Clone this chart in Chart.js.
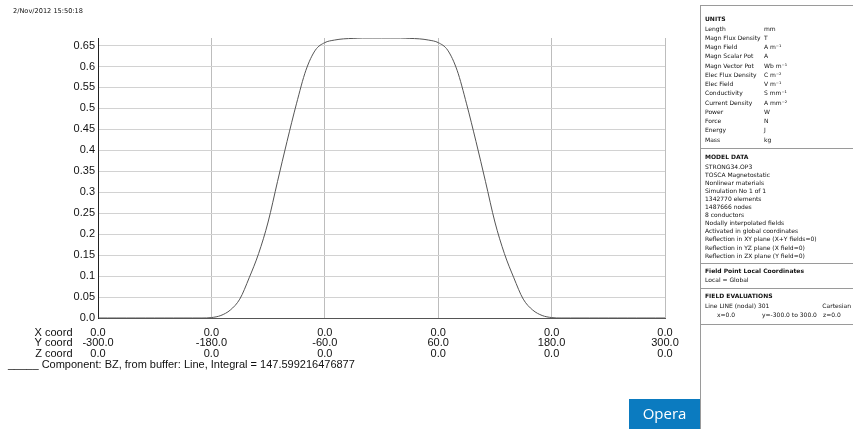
<!DOCTYPE html>
<html>
<head>
<meta charset="utf-8">
<script src="https://cdn.jsdelivr.net/npm/chart.js@4/dist/chart.umd.min.js"></script>
<style>
  html, body { margin: 0; padding: 0; background: #fff; }
  #wrap { position: relative; width: 853px; height: 429px; }
</style>
</head>
<body>
<div id="wrap"><canvas id="fieldChart" width="853" height="429"></canvas></div>
<script>
// Line LINE (nodal), x=0, z=0 -- BZ sampled along y
const yCoord = [-300, -290, -280, -270, -260, -250, -240, -230, -220, -210, -200, -190, -180,
    -170, -160, -150, -140, -130, -120, -110, -100, -90, -80, -70, -60, -50, -40, -30, -20, -10,
    0, 10, 20, 30, 40, 50, 60, 70, 80, 90, 100, 110, 120, 130, 140, 150, 160, 170,
    180, 190, 200, 210, 220, 230, 240, 250, 260, 270, 280, 290, 300];
const bz = [0, 0, 0, 0, 0, 0, 0, 0, 0, 0, 0, 0, 0.001,
    0.006, 0.019, 0.045, 0.096, 0.154, 0.229, 0.326, 0.421, 0.511, 0.591, 0.639, 0.657, 0.663, 0.666, 0.667, 0.668, 0.668,
    0.668, 0.668, 0.668, 0.667, 0.666, 0.663, 0.657, 0.639, 0.591, 0.511, 0.421, 0.326, 0.229, 0.154, 0.096, 0.045, 0.019, 0.006,
    0.001, 0, 0, 0, 0, 0, 0, 0, 0, 0, 0, 0, 0];

const yTicks = [0, 0.05, 0.1, 0.15, 0.2, 0.25, 0.3, 0.35, 0.4, 0.45, 0.5, 0.55, 0.6, 0.65];
const yTickLabels = ['0.0', '0.05', '0.1', '0.15', '0.2', '0.25', '0.3', '0.35', '0.4', '0.45', '0.5', '0.55', '0.6', '0.65'];
const xTicks = [-300, -180, -60, 60, 180, 300];
const xCoordLabels = ['0.0', '0.0', '0.0', '0.0', '0.0', '0.0'];
const yCoordLabels = ['-300.0', '-180.0', '-60.0', '60.0', '180.0', '300.0'];
const zCoordLabels = ['0.0', '0.0', '0.0', '0.0', '0.0', '0.0'];

const unitNames = ['Length', 'Magn Flux Density', 'Magn Field', 'Magn Scalar Pot', 'Magn Vector Pot',
    'Elec Flux Density', 'Elec Field', 'Conductivity', 'Current Density', 'Power', 'Force', 'Energy', 'Mass'];
const unitValues = ['mm', 'T', 'A m\u207B\u00B9', 'A', 'Wb m\u207B\u00B9', 'C m\u207B\u00B2', 'V m\u207B\u00B9',
    'S mm\u207B\u00B9', 'A mm\u207B\u00B2', 'W', 'N', 'J', 'kg'];
const modelData = ['STRONG34.OP3', 'TOSCA Magnetostatic', 'Nonlinear materials', 'Simulation No 1 of 1',
    '1342770 elements', '1487666 nodes', '8 conductors', 'Nodally interpolated fields',
    'Activated in global coordinates', 'Reflection in XY plane (X+Y fields=0)',
    'Reflection in YZ plane (X field=0)', 'Reflection in ZX plane (Y field=0)'];

const PANEL_FONT = "'DejaVu Sans', sans-serif";
const AXIS_FONT = "'Liberation Sans', Arial, sans-serif";

// Text around the plot: coordinates table, caption, info panel, logo
const annotations = {
    id: 'annotations',
    afterDraw(chart) {
        const ctx = chart.ctx;
        const xs = chart.scales.x;
        ctx.save();
        ctx.fillStyle = '#111';
        ctx.textBaseline = 'middle';

        // date stamp
        ctx.font = '6.6px ' + PANEL_FONT;
        ctx.textAlign = 'left';
        ctx.fillText('2/Nov/2012 15:50:18', 13, 11);

        // coordinate rows under the axis
        ctx.font = '11px ' + AXIS_FONT;
        const rows = [['X coord', xCoordLabels, 332.5], ['Y coord', yCoordLabels, 343.2], ['Z coord', zCoordLabels, 354]];
        rows.forEach(([name, labels, y]) => {
            ctx.textAlign = 'right';
            ctx.fillText(name, 72.5, y);
            ctx.textAlign = 'center';
            xTicks.forEach((v, i) => ctx.fillText(labels[i], xs.getPixelForValue(v), y));
        });
        ctx.textAlign = 'left';
        ctx.fillText('_____ Component: BZ, from buffer: Line, Integral = 147.599216476877', 8, 364.5);

        // info panel frame
        ctx.strokeStyle = '#9a9a9a';
        ctx.lineWidth = 1;
        ctx.beginPath();
        ctx.moveTo(700.5, 5); ctx.lineTo(700.5, 429);
        [5, 148, 263, 288, 324].forEach(y => { ctx.moveTo(701, y + 0.5); ctx.lineTo(853, y + 0.5); });
        ctx.stroke();

        const px = 705;
        ctx.textAlign = 'left';
        ctx.font = 'bold 6px ' + PANEL_FONT;
        ctx.fillText('UNITS', px, 19.5);
        ctx.font = '6px ' + PANEL_FONT;
        unitNames.forEach((n, i) => {
            const y = 29 + i * 9.25;
            ctx.fillText(n, px, y);
            ctx.fillText(unitValues[i], 764, y);
        });

        ctx.font = 'bold 6px ' + PANEL_FONT;
        ctx.fillText('MODEL DATA', px, 157.5);
        ctx.font = '6px ' + PANEL_FONT;
        modelData.forEach((t, i) => ctx.fillText(t, px, 167 + i * 8.1));

        ctx.font = 'bold 6px ' + PANEL_FONT;
        ctx.fillText('Field Point Local Coordinates', px, 271.5);
        ctx.font = '6px ' + PANEL_FONT;
        ctx.fillText('Local = Global', px, 280);

        ctx.font = 'bold 6px ' + PANEL_FONT;
        ctx.fillText('FIELD EVALUATIONS', px, 296.5);
        ctx.font = '6px ' + PANEL_FONT;
        ctx.fillText('Line LINE (nodal) 301', px, 306);
        ctx.textAlign = 'right';
        ctx.fillText('Cartesian', 851, 306);
        ctx.textAlign = 'left';
        ctx.fillText('x=0.0', 717, 315);
        ctx.fillText('y=-300.0 to 300.0', 762, 315);
        ctx.fillText('z=0.0', 823, 315);

        // logo
        ctx.fillStyle = '#0b7bc0';
        ctx.fillRect(629, 399, 71, 30);
        ctx.fillStyle = '#fff';
        ctx.font = "15px 'Open Sans', sans-serif";
        ctx.textAlign = 'center';
        ctx.textBaseline = 'alphabetic';
        ctx.fillText('Opera', 664.5, 418.5);
        ctx.restore();
    }
};

new Chart(document.getElementById('fieldChart'), {
    type: 'line',
    data: {
        datasets: [{
            data: yCoord.map((y, i) => ({ x: y, y: bz[i] })),
            borderColor: '#555',
            borderWidth: 1,
            pointRadius: 0,
            fill: false,
            cubicInterpolationMode: 'monotone'
        }]
    },
    options: {
        responsive: false,
        animation: false,
        layout: { padding: { top: 38, bottom: 111, left: 0, right: 188 } },
        plugins: { legend: { display: false }, tooltip: { enabled: false } },
        scales: {
            x: {
                type: 'linear',
                min: -300,
                max: 300,
                afterBuildTicks: s => { s.ticks = xTicks.map(v => ({ value: v })); },
                afterFit: s => { s.height = 0; },
                ticks: { display: false },
                grid: { color: '#bdbdbd', drawTicks: false },
                border: { color: '#555' }
            },
            y: {
                min: 0,
                max: 0.668,
                afterBuildTicks: s => { s.ticks = yTicks.map(v => ({ value: v })); },
                afterFit: s => { s.width = 98; },
                ticks: {
                    padding: 3,
                    color: '#111',
                    font: { family: AXIS_FONT, size: 11 },
                    callback: (v, i) => yTickLabels[i]
                },
                grid: { color: '#d2d2d2', drawTicks: false },
                border: { color: '#222' }
            }
        }
    },
    plugins: [annotations]
});
</script>
</body>
</html>
